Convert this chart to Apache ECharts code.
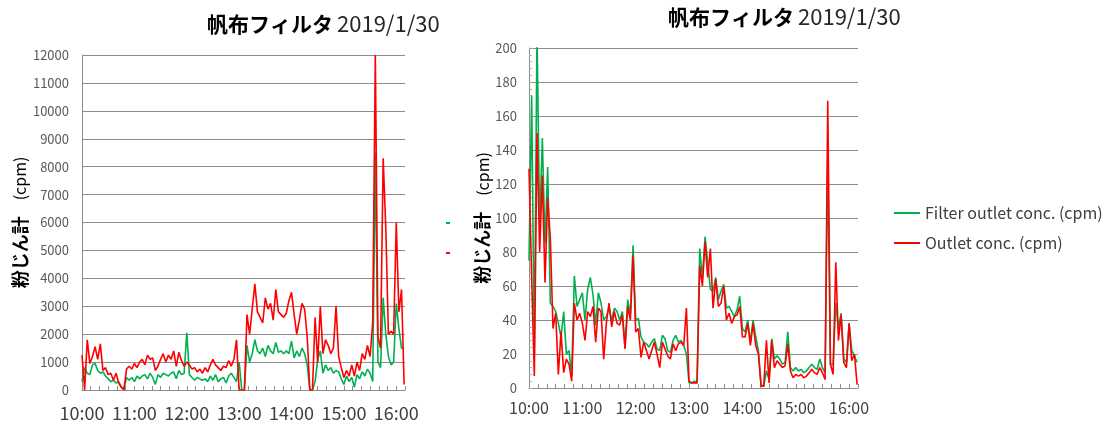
<!DOCTYPE html>
<html>
<head>
<meta charset="utf-8">
<script src="https://cdn.jsdelivr.net/npm/echarts@6/dist/echarts.min.js"></script>
<style>
  html, body { margin: 0; padding: 0; background: #fff; }
  #main { width: 1113px; height: 424px; }
</style>
</head>
<body>
<div id="main"></div>
<script>
// 経過時間（分、10:00 起点）
const minutes = [
  0,3,6,9,12,15,18,21,24,27,
  30,33,36,39,42,45,48,51,54,57,
  60,63,66,69,72,75,78,81,84,87,
  90,93,96,99,102,105,108,111,114,117,
  120,123,126,129,132,135,138,141,144,147,
  150,153,156,159,162,165,168,171,174,177,
  180,183,186,189,192,195,198,201,204,207,
  210,213,216,219,222,225,228,231,234,237,
  240,243,246,249,252,255,258,261,264,267,
  270,273,276,279,282,285,288,291,294,297,
  300,303,306,309,312,315,318,321,324,327,
  330,333,336,339,342,345,348,351,354,357,
  360,363,366,369
];

// 左グラフ
const leftFilter = [
  300,800,600,550,900,950,700,600,650,500,
  400,300,350,250,300,100,50,450,350,450,
  300,500,400,500,550,400,600,450,200,550,
  450,600,550,500,600,650,400,700,550,600,
  2050,550,450,350,450,400,350,400,300,500,
  350,550,300,400,450,250,500,600,450,300,
  1000,0,0,1600,1000,1300,1800,1400,1300,1500,
  1200,1600,1400,1300,1700,1350,1400,1300,1400,1300,
  1750,1150,1400,1200,1500,1300,900,0,0,300,
  1100,1400,600,900,700,800,600,700,650,400,
  200,500,300,450,100,550,400,650,500,750,
  600,300,8500,1000,800,3300,2000,1200,900,1000,
  3100,2200,1500,1500
];
const leftOutlet = [
  1250,0,1800,950,1200,1550,1100,1650,700,800,
  550,600,350,600,250,100,0,750,850,750,
  950,800,1000,1100,900,1250,1100,1150,700,850,
  1100,1300,1000,1250,1100,1400,850,1350,1050,850,
  1000,900,750,800,650,750,600,800,650,900,
  1100,900,800,700,850,800,1050,850,1100,1800,
  0,0,0,2700,2000,2900,3800,2800,2600,2400,
  3300,2900,3100,2500,3600,2800,2700,2600,2750,3200,
  3500,2700,2000,2500,3100,2900,1900,0,0,2600,
  1000,3000,1300,1800,1600,1300,1500,3000,1200,800,
  450,700,500,900,500,1000,700,1300,1100,1600,
  1200,2400,12000,1900,1500,8300,5800,2000,2100,2000,
  6000,2800,3600,200
];

// 右グラフ
const rightFilter = [
  75,172,20,210,95,147,85,130,50,48,
  45,38,30,45,20,22,7,66,48,52,
  56,40,58,65,55,37,56,50,40,42,
  47,40,47,45,40,45,24,52,43,84,
  40,41,30,27,26,24,27,29,23,22,
  31,29,22,21,28,31,27,28,25,20,
  3,3,4,3,82,65,89,74,58,57,
  65,52,57,61,47,48,45,42,46,54,
  35,33,40,27,40,30,22,2,1,10,
  5,29,17,19,17,14,15,33,12,10,
  12,10,11,9,10,12,14,12,11,17,
  12,9,135,14,14,50,35,44,17,15,
  38,22,19,15
];
const rightOutlet = [
  129,65,7,150,80,125,62,112,88,35,
  44,8,33,9,17,14,4,50,40,44,
  38,28,45,42,48,27,47,45,17,38,
  50,36,45,38,37,43,23,48,40,78,
  33,35,18,27,22,17,22,27,20,12,
  27,23,19,17,26,22,26,27,25,47,
  4,3,3,3,72,60,86,65,82,47,
  64,48,50,60,40,44,38,42,43,48,
  30,30,38,25,38,25,20,1,1,28,
  3,28,12,16,14,12,13,26,10,6,
  8,7,8,6,7,9,11,9,8,12,
  9,5,169,14,8,74,28,43,15,12,
  38,16,20,2
];

const seriesNames = ['Filter outlet conc. (cpm)', 'Outlet conc. (cpm)'];
const GREEN = '#00b050';
const RED = '#ff0000';
const FONT = '"Noto Sans CJK JP", "Noto Sans", sans-serif';

function toPairs(vals) {
  return minutes.map((m, i) => [m, vals[i]]);
}

function timeAxis(gridIndex, fontSize, margin) {
  return {
    type: 'value', gridIndex: gridIndex,
    min: 0, max: 370, interval: 10,
    axisLine: { show: true, lineStyle: { color: '#8c8c8c', width: 1 } },
    axisTick: { show: true, inside: true, length: 4, lineStyle: { color: '#8c8c8c' } },
    splitLine: { show: false },
    axisLabel: {
      margin: margin, fontSize: fontSize, color: '#404040', fontFamily: FONT,
      formatter: v => (v % 60 === 0 ? (10 + v / 60) + ':00' : '')
    }
  };
}

const yName = '{b|粉じん計}{n|　(cpm)}';
const yNameStyle = {
  rich: {
    b: { fontSize: 18, fontWeight: 'bold', color: '#000', fontFamily: FONT },
    n: { fontSize: 16, fontWeight: 'normal', color: '#000', fontFamily: FONT }
  }
};
const titleRich = {
  b: { fontSize: 21, fontWeight: 'bold', color: '#000', fontFamily: FONT },
  n: { fontSize: 22, fontWeight: 'normal', color: '#262626', fontFamily: FONT }
};

function lineSeries(name, idx, vals, color) {
  return {
    name: name, type: 'line', xAxisIndex: idx, yAxisIndex: idx,
    data: toPairs(vals), symbol: 'none', clip: true,
    lineStyle: { color: color, width: 1.6 },
    itemStyle: { color: color }
  };
}

const chart = echarts.init(document.getElementById('main'));
chart.setOption({
  animation: false,
  textStyle: { fontFamily: FONT },
  title: [
    { text: '{b|帆布フィルタ} {n|2019/1/30}', left: 202, top: 8,
      textStyle: { fontWeight: 'normal', rich: titleRich } },
    { text: '{b|帆布フィルタ} {n|2019/1/30}', left: 663, top: 1,
      textStyle: { fontWeight: 'normal', rich: titleRich } }
  ],
  legend: [
    {
      data: seriesNames, orient: 'vertical', left: 889, top: 200,
      itemWidth: 26, itemHeight: 14, itemGap: 14,
      icon: 'path://M0,0 H26 V2 H0 Z',
      textStyle: { fontSize: 16, color: '#404040', fontFamily: FONT }
    },
    {
      data: seriesNames, orient: 'vertical', left: 441, top: 211,
      itemWidth: 4, itemHeight: 14, itemGap: 22,
      icon: 'path://M0,0 H4 V2 H0 Z',
      formatter: () => '',
      textStyle: { fontSize: 14 }
    }
  ],
  grid: [
    { left: 82, top: 55, width: 323, height: 335 },
    { left: 529, top: 48, width: 329, height: 340 }
  ],
  xAxis: [timeAxis(0, 18, 14), timeAxis(1, 16, 12)],
  yAxis: [
    {
      type: 'value', gridIndex: 0, min: 0, max: 12000, interval: 1000,
      axisLine: { show: true, lineStyle: { color: '#8c8c8c' } },
      axisTick: { show: false },
      splitLine: { lineStyle: { color: '#8c8c8c' } },
      axisLabel: { fontSize: 13, color: '#595959', margin: 13, fontFamily: FONT,
        formatter: v => String(v) },
      name: yName, nameLocation: 'middle', nameGap: 50, nameTextStyle: yNameStyle
    },
    {
      type: 'value', gridIndex: 1, min: 0, max: 200, interval: 20,
      axisLine: { show: true, lineStyle: { color: '#8c8c8c' } },
      axisTick: { show: true, inside: true, length: 4, lineStyle: { color: '#a0a0a0' } },
      minorTick: { show: true, splitNumber: 5, length: 3, lineStyle: { color: '#b0b0b0' } },
      splitLine: { lineStyle: { color: '#8c8c8c' } },
      axisLabel: { fontSize: 13, color: '#595959', margin: 12, fontFamily: FONT,
        formatter: v => String(v) },
      name: yName, nameLocation: 'middle', nameGap: 36, nameTextStyle: yNameStyle
    }
  ],
  series: [
    lineSeries(seriesNames[0], 0, leftFilter, GREEN),
    lineSeries(seriesNames[1], 0, leftOutlet, RED),
    lineSeries(seriesNames[0], 1, rightFilter, GREEN),
    lineSeries(seriesNames[1], 1, rightOutlet, RED)
  ]
});
</script>
</body>
</html>
